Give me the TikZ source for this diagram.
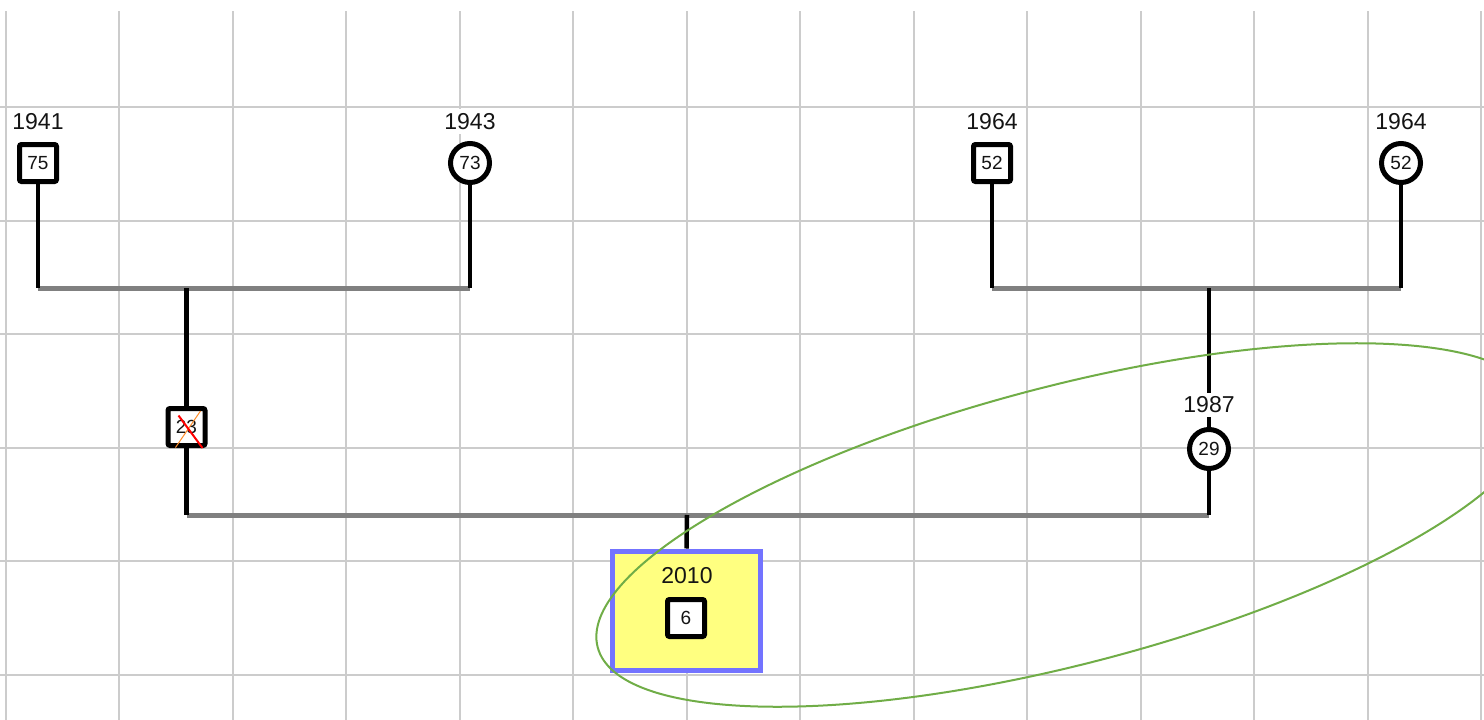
\documentclass[tikz,border=0pt]{standalone}
\usepackage{fontspec}
\setmainfont{Liberation Sans}
\definecolor{gridgray}{RGB}{204,204,204}
\definecolor{couplegray}{RGB}{128,128,128}
\definecolor{focusfill}{RGB}{255,255,128}
\definecolor{focusedge}{RGB}{115,115,255}
\definecolor{groupgreen}{RGB}{112,173,71}
\definecolor{crossorange}{RGB}{255,140,40}
\definecolor{inktext}{RGB}{20,20,20}
\begin{document}
\begin{tikzpicture}[x=1pt,y=-1pt,
  gridline/.style={draw=gridgray, line width=2},
  yearlbl/.style={fill=white, text=inktext, inner xsep=4, inner ysep=4,
    font=\fontsize{23}{23}\selectfont},
  yearplain/.style={text=inktext, inner sep=0, font=\fontsize{23}{23}\selectfont},
  malebox/.style={draw=black, line width=5, rounded corners=2, fill=white,
    minimum size=37, inner sep=0, text=inktext, font=\fontsize{19}{19}\selectfont},
  femalecirc/.style={circle, draw=black, line width=5, fill=white,
    minimum size=39, inner sep=0, text=inktext, font=\fontsize{19}{19}\selectfont},
  focusbox/.style={draw=focusedge, fill=focusfill, line width=5,
    minimum width=148, minimum height=119, inner sep=0},
  descent/.style={draw=black, line width=4.5},
  couple/.style={draw=couplegray, line width=5}]
\useasboundingbox (0,0) rectangle (1484,720);
\clip (0,0) rectangle (1484,720);

% background grid
\foreach \i in {0,...,13}
  \draw[gridline] ({5.7+113.5*\i},11) -- ({5.7+113.5*\i},720);
\foreach \j in {0,...,5}
  \draw[gridline] (0,{107+113.5*\j}) -- (1484,{107+113.5*\j});

% grandparents
\node[yearlbl] (y41) at (38,121.5) {1941};
\node[malebox] (p41) at (38,163) {75};
\node[yearlbl] (y43) at (470,121.5) {1943};
\node[femalecirc] (p43) at (470,163) {73};
\node[yearlbl] (y64a) at (992,121.5) {1964};
\node[malebox] (p64a) at (992,163) {52};
\node[yearlbl] (y64b) at (1401,121.5) {1964};
\node[femalecirc] (p64b) at (1401,163) {52};

% parents
\node[malebox] (p23) at (186.5,427) {23};
\node[yearlbl] (y87) at (1209,405) {1987};
\node[femalecirc] (p29) at (1209,449) {29};

% index person
\node[focusbox] (focus) at (686.5,610.5) {};
\node[yearplain] (y10) at (687,576) {2010};
\node[malebox] (p6) at (686,618) {6};

% junction points
\coordinate (m1l) at (38,288);
\coordinate (m1r) at (470,288);
\coordinate (m1c) at (186.5,288);
\coordinate (m2l) at (992,288);
\coordinate (m2r) at (1401,288);
\coordinate (m2c) at (1209,288);
\coordinate (m3l) at (186.5,515);
\coordinate (m3r) at (1209,515);
\coordinate (m3c) at (687,515);

% marriage lines
\draw[couple] (m1l) -- (m1r);
\draw[couple] (m2l) -- (m2r);
\draw[couple] (m3l) -- (m3r);

% descent lines
\draw[descent] (p41.south) -- (m1l);
\draw[descent] (p43.south) -- (m1r);
\draw[descent] (p64a.south) -- (m2l);
\draw[descent] (p64b.south) -- (m2r);
\draw[descent] (m1c) -- (p23.north);
\draw[descent] (p23.south) -- (m3l);
\draw[descent] (m2c) -- (y87.north);
\draw[descent] (y87.south) -- (p29.north);
\draw[descent] (p29.south) -- (m3r);
\draw[descent] (m3c) -- (focus.north);

% deceased marks
\draw[crossorange, line width=1] ([shift={(14,-16)}]p23.center) -- ([shift={(-11,20.5)}]p23.center);
\draw[red, line width=2] ([shift={(-8,-11.5)}]p23.center) -- ([shift={(16,21)}]p23.center);

% grouping ellipse
\draw[groupgreen, line width=2, rotate around={14.6:(1067,525)}]
  (1067,525) ellipse [x radius=485, y radius=139];
\end{tikzpicture}
\end{document}
